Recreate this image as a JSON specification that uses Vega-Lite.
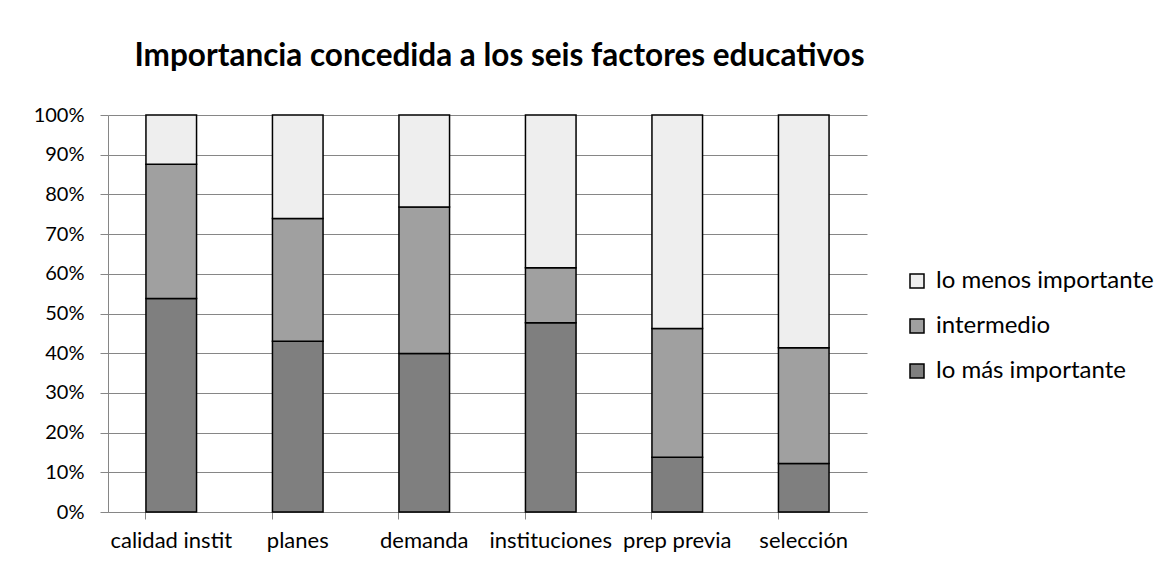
{
  "$schema": "https://vega.github.io/schema/vega-lite/v6.json",
  "autosize": "none",
  "width": 759,
  "height": 397,
  "padding": {"left": 108, "top": 115, "right": 303, "bottom": 55},
  "background": "white",
  "title": {
    "text": "Importancia concedida a los seis factores educativos",
    "font": "Lato",
    "fontSize": 31.5,
    "fontWeight": "bold",
    "color": "black",
    "anchor": "middle",
    "dx": 12,
    "offset": 33
  },
  "data": {
    "values": [
      {"factor": "calidad instit", "nivel": "lo más importante", "orden": 1, "valor": 53.8},
      {"factor": "calidad instit", "nivel": "intermedio", "orden": 2, "valor": 33.8},
      {"factor": "calidad instit", "nivel": "lo menos importante", "orden": 3, "valor": 12.4},
      {"factor": "planes", "nivel": "lo más importante", "orden": 1, "valor": 43.0},
      {"factor": "planes", "nivel": "intermedio", "orden": 2, "valor": 30.9},
      {"factor": "planes", "nivel": "lo menos importante", "orden": 3, "valor": 26.1},
      {"factor": "demanda", "nivel": "lo más importante", "orden": 1, "valor": 39.9},
      {"factor": "demanda", "nivel": "intermedio", "orden": 2, "valor": 36.9},
      {"factor": "demanda", "nivel": "lo menos importante", "orden": 3, "valor": 23.2},
      {"factor": "instituciones", "nivel": "lo más importante", "orden": 1, "valor": 47.7},
      {"factor": "instituciones", "nivel": "intermedio", "orden": 2, "valor": 13.8},
      {"factor": "instituciones", "nivel": "lo menos importante", "orden": 3, "valor": 38.5},
      {"factor": "prep previa", "nivel": "lo más importante", "orden": 1, "valor": 13.8},
      {"factor": "prep previa", "nivel": "intermedio", "orden": 2, "valor": 32.4},
      {"factor": "prep previa", "nivel": "lo menos importante", "orden": 3, "valor": 53.8},
      {"factor": "selección", "nivel": "lo más importante", "orden": 1, "valor": 12.2},
      {"factor": "selección", "nivel": "intermedio", "orden": 2, "valor": 29.2},
      {"factor": "selección", "nivel": "lo menos importante", "orden": 3, "valor": 58.6}
    ]
  },
  "mark": {"type": "bar", "stroke": "black", "strokeWidth": 1.5},
  "encoding": {
    "x": {
      "field": "factor",
      "type": "nominal",
      "sort": ["calidad instit", "planes", "demanda", "instituciones", "prep previa", "selección"],
      "scale": {"paddingInner": 0.6, "paddingOuter": 0.3},
      "axis": {
        "title": null,
        "labelAngle": 0,
        "labelFont": "Lato",
        "labelFontSize": 22,
        "labelColor": "black",
        "labelPadding": 11,
        "labelLimit": 200,
        "bandPosition": 0,
        "tickSize": 7,
        "tickColor": "#868686",
        "domainColor": "#868686",
        "grid": false
      }
    },
    "y": {
      "field": "valor",
      "type": "quantitative",
      "stack": "normalize",
      "scale": {"domain": [0, 1]},
      "axis": {
        "title": null,
        "format": ".0%",
        "values": [0, 0.1, 0.2, 0.3, 0.4, 0.5, 0.6, 0.7, 0.8, 0.9, 1],
        "labelFont": "Lato",
        "labelFontSize": 20,
        "labelColor": "black",
        "labelPadding": 16,
        "tickSize": 8,
        "tickColor": "#868686",
        "domainColor": "#868686",
        "grid": true,
        "gridColor": "#868686",
        "gridWidth": 1
      }
    },
    "color": {
      "field": "nivel",
      "type": "nominal",
      "scale": {
        "domain": ["lo menos importante", "intermedio", "lo más importante"],
        "range": ["#eeeeee", "#a0a0a0", "#7f7f7f"]
      },
      "legend": {
        "title": null,
        "orient": "none",
        "legendX": 797,
        "legendY": 154,
        "symbolType": "square",
        "symbolSize": 196,
        "symbolStrokeColor": "black",
        "symbolStrokeWidth": 1.5,
        "symbolOpacity": 1,
        "labelFont": "Lato",
        "labelFontSize": 24,
        "labelColor": "black",
        "labelOffset": 7,
        "labelLimit": 300,
        "rowPadding": 21
      }
    },
    "order": {"field": "orden", "type": "quantitative"}
  },
  "config": {
    "view": {"stroke": null}
  }
}
